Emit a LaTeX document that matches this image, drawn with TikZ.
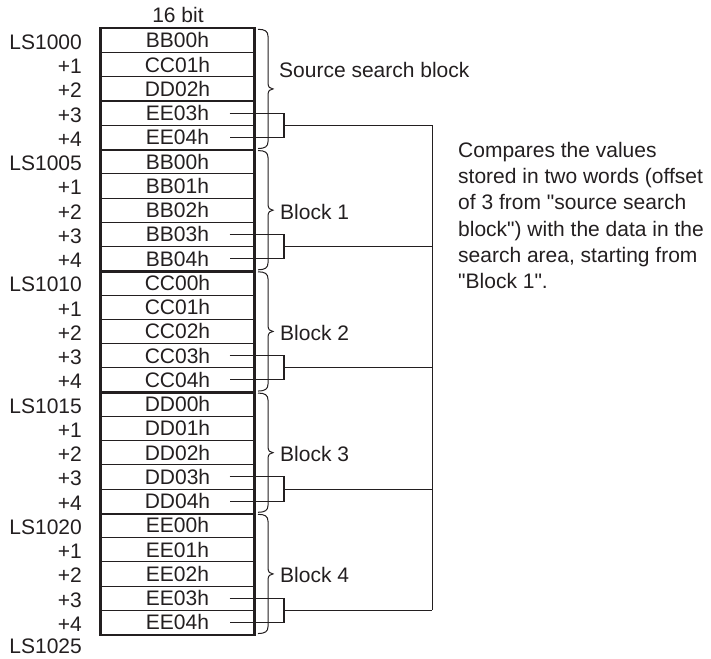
\documentclass[tikz,border=0pt]{standalone}
\usepackage{fontspec}
\setmainfont{Liberation Sans}[Ligatures=TeXOff]
\usetikzlibrary{calc}
\definecolor{ink}{HTML}{231F20}
\tikzset{
  cell/.style={draw=ink, line width=1.1pt, inner sep=0pt, minimum width=153pt, minimum height=24.25pt, text=ink},
  thickline/.style={draw=ink, line width=2.3pt},
  thinline/.style={draw=ink, line width=1.1pt},
  bracestyle/.style={draw=ink, line width=1pt},
  lbl/.style={inner sep=0pt, text=ink}
}
\begin{document}
\begin{tikzpicture}[x=1pt, y=-1pt, every node/.style={font=\fontsize{21}{26.3}\selectfont}]
\useasboundingbox (0,0) rectangle (711,658);
% cells
\foreach \v [count=\i from 0] in {BB00h,CC01h,DD02h,EE03h,EE04h,BB00h,BB01h,BB02h,BB03h,BB04h,CC00h,CC01h,CC02h,CC03h,CC04h,DD00h,DD01h,DD02h,DD03h,DD04h,EE00h,EE01h,EE02h,EE03h,EE04h}{
  \node[cell] (c\i) at (177.5, {28.3+24.25*(\i+0.5)}) {\v};
}
% left labels
\foreach \v [count=\i from 0] in {LS1000,+1,+2,+3,+4,LS1005,+1,+2,+3,+4,LS1010,+1,+2,+3,+4,LS1015,+1,+2,+3,+4,LS1020,+1,+2,+3,+4}{
  \node[lbl, anchor=base east] (l\i) at (82, {28.3+24.25*(\i+0.5)+9}) {\v};
}
\node[lbl, anchor=base east] (l25) at (82,653) {LS1025};
\node[lbl, anchor=base] (hdr) at (178,23) {16 bit};
% thick border and block separators
\draw[thickline] (c0.north west) rectangle (c24.south east);
\foreach \r in {4,9,14,19}{
  \draw[thickline] (c\r.south west) -- (c\r.south east);
}
% braces
\foreach \b in {0,...,4}{
  \pgfmathsetmacro\ya{28.3+121.25*\b+1}
  \pgfmathsetmacro\yb{28.3+121.25*(\b+1)-1}
  \pgfmathsetmacro\ym{(\ya+\yb)/2}
  \draw[bracestyle] (258,\ya) .. controls (265,\ya) and (268,\ya+2) .. (268,\ya+7)
    -- (268,\ym-6) .. controls (268,\ym-2) and (270,\ym) .. (273,\ym)
    .. controls (270,\ym) and (268,\ym+2) .. (268,\ym+6)
    -- (268,\yb-7) .. controls (268,\yb-2) and (265,\yb) .. (258,\yb);
}
\node[lbl, anchor=base west] (src) at (279,77.7) {Source search block};
\foreach \b in {1,...,4}{
  \pgfmathsetmacro\ym{28.3+121.25*(\b+0.5)}
  \node[lbl, anchor=base west] (blk\b) at (280,\ym+9) {Block \b};
}
% connectors
\foreach \b in {0,...,4}{
  \pgfmathtruncatemacro\ra{5*\b+3}
  \pgfmathtruncatemacro\rb{5*\b+4}
  \pgfmathsetmacro\ym{28.3+121.25*\b+24.25*4}
  \coordinate (p\b) at ([xshift=-25pt]c\ra.east);
  \coordinate (q\b) at ([xshift=-25pt]c\rb.east);
  \coordinate (m\b) at (284,\ym);
  \coordinate (e\b) at (432.3,\ym);
  \draw[thinline] (p\b) -| (m\b) |- (q\b);
  \draw[thinline] (m\b) -- (e\b);
}
\draw[thinline] (e0) -- (e4);
% description
\node[lbl, anchor=north west, align=left] (desc) at (458,141.7) {Compares the values\\stored in two words (offset\\of 3 from "source search\\block") with the data in the\\search area, starting from\\"Block 1".};
\end{tikzpicture}
\end{document}
